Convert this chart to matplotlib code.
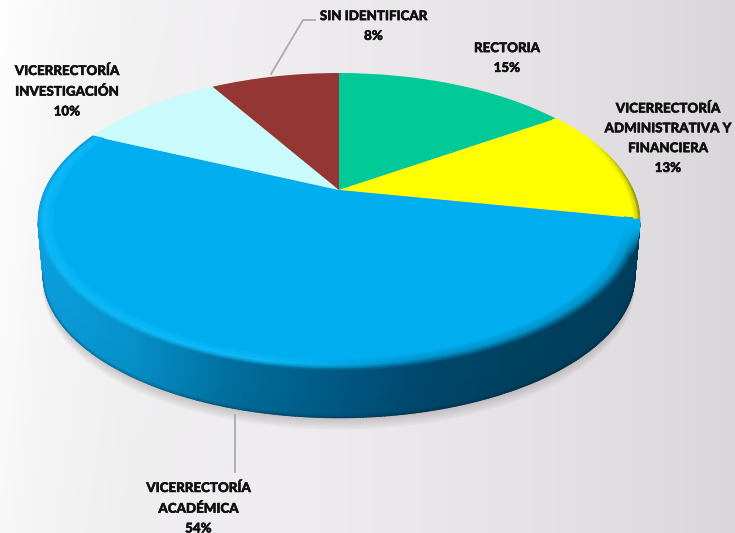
import numpy as np
import matplotlib
matplotlib.use("Agg")
import matplotlib.pyplot as plt
import matplotlib.patheffects as pe
from matplotlib.colors import to_rgb
from matplotlib.patches import Polygon
from matplotlib.transforms import Transform

# ---- data ----
labels = ["RECTORIA", "VICERRECTORÍA\nADMINISTRATIVA Y\nFINANCIERA", "VICERRECTORÍA\nACADÉMICA",
          "VICERRECTORÍA\nINVESTIGACIÓN", "SIN IDENTIFICAR"]
values = [15.49, 12.6, 53.7, 9.72, 8.49]
colors = ["#02C998", "#FFFF00", "#00AEEF", "#C9FBFC", "#943634"]
label_pos = [(507, 58), (668, 138), (198.5, 508), (67, 91), (373.5, 26)]

# ---- perspective of the disc, in pixels ----
CX, CY, A, B, K = 339.0, 190.0, 294.0, 141.8, 0.212


def project(u, v):
    w = 1 + K * v
    return CX + A * u / w, CY - B * v / w


class Persp(Transform):
    input_dims = output_dims = 2
    is_separable = False
    has_inverse = False

    def transform_non_affine(self, values):
        values = np.asarray(values)
        x, y = project(values[:, 0], values[:, 1])
        return np.column_stack([x, y])


def hexes(seq):
    return np.array([to_rgb(c) for c in seq])


fig = plt.figure(figsize=(7.35, 5.33), dpi=100)

# background
bg = fig.add_axes([0, 0, 1, 1], zorder=0)
bg.axis("off")
xx, yy = np.meshgrid(np.linspace(0, 735, 148), np.linspace(0, 533, 108))
stops_x = [0, 40, 130, 400, 600, 735]
stops_c = hexes(["#FEFEFE", "#FAF9FA", "#F3F2F3", "#EBE8EC", "#E2DFE2", "#DAD7DA"])
grad = np.dstack([np.interp(xx, stops_x, stops_c[:, i]) for i in range(3)])
grad = grad - 0.025 * np.clip(1 - xx / 300, 0, 1)[..., None] * (yy / 533)[..., None]
bg.imshow(grad, extent=(0, 735, 533, 0), aspect="auto", interpolation="bilinear")

ax = fig.add_axes([0, 0, 1, 1], zorder=1)
wedges, _ = ax.pie(values, colors=colors, startangle=90, counterclock=False, radius=1,
                   wedgeprops=dict(linewidth=0))
ax.set_aspect("auto")
ax.set_xlim(0, 735)
ax.set_ylim(533, 0)
ax.axis("off")
persp = Persp() + ax.transData
for w in wedges:
    w.set_transform(persp)
    w.set_zorder(5)


def lower(x, y):
    return CX + (x - CX) * 0.984, 221 + (y - 221) * 0.965 + 53


# soft shadow
t = np.linspace(0, 2 * np.pi, 300)
sx, sy = lower(*project(np.cos(t), np.sin(t)))
for off in np.arange(12, 0, -1.5):
    ax.add_patch(Polygon(np.column_stack([sx, sy + off]), closed=True, fc="#8A8488",
                         ec="none", alpha=0.055, zorder=2))

# side wall of the largest slice
big = wedges[2]
ang = np.radians(np.linspace(big.theta1, big.theta2, 400))
ang_side = ang[np.sin(ang) <= -K]
tx, ty = project(np.cos(ang_side), np.sin(ang_side))
bx, by = lower(tx, ty)
side_x = [37, 130, 230, 330, 430, 530, 640]
side_c = hexes(["#0C9FDE", "#0692CB", "#016F9F", "#005A85", "#00466B", "#00415F", "#003E5C"])
shade = np.column_stack([np.interp(tx, side_x, side_c[:, i]) for i in range(3)])
X = np.vstack([tx, (tx + bx) / 2, bx, bx])
Y = np.vstack([ty, (ty + by) / 2, by - 2.5, by])
C = np.stack([shade, shade, shade * 0.97, shade * 0.72], axis=0)
ax.pcolormesh(X, Y, C, shading="gouraud", zorder=3)

# bevel on the rim of the largest slice
ang_rim = np.radians(np.linspace(big.theta1, big.theta2, 500))
blue = np.array(to_rgb(colors[2]))
radii = np.array([1.0, 0.99, 0.978, 0.95])
rim_x = np.array([project(r * np.cos(ang_rim), r * np.sin(ang_rim))[0] for r in radii])
rim_y = np.array([project(r * np.cos(ang_rim), r * np.sin(ang_rim))[1] for r in radii])
x0, y0 = rim_x[0], rim_y[0]
outer = np.column_stack([np.interp(x0, side_x, side_c[:, i]) for i in range(3)])
lit = np.clip((420 - x0) / 160, 0, 1)[:, None]
taper = np.clip((y0 - 228) / 28, 0, 1)[:, None]
taper = np.where(x0[:, None] > 339, taper, 1.0)
bright = np.array(to_rgb("#10BDFB"))
mid2 = lit * bright + (1 - lit) * (0.35 * outer + 0.65 * blue)
mid1 = lit * (0.5 * outer + 0.5 * bright) + (1 - lit) * (0.7 * outer + 0.3 * blue)
outer = taper * outer + (1 - taper) * blue
mid1 = taper * mid1 + (1 - taper) * blue
mid2 = taper * mid2 + (1 - taper) * blue
inner = np.tile(blue, (len(x0), 1))
rim = np.stack([outer, mid1, mid2, inner], axis=0)
ax.pcolormesh(rim_x, rim_y, rim, shading="gouraud", zorder=6)

# thin shaded edge on the yellow slice
yel = wedges[1]
ang_y = np.radians(np.linspace(yel.theta1, yel.theta2, 120))
radii_y = np.array([1.0, 0.992, 0.98])
yx = np.array([project(r * np.cos(ang_y), r * np.sin(ang_y))[0] for r in radii_y])
yy2 = np.array([project(r * np.cos(ang_y), r * np.sin(ang_y))[1] for r in radii_y])
ycol = np.array(to_rgb(colors[1]))
fade = np.clip((yx[0] - 590) / 45, 0, 1)[:, None]
olive = np.array(to_rgb("#8F8A10"))
y_outer = fade * olive + (1 - fade) * ycol
y_mid = 0.5 * y_outer + 0.5 * ycol
ax.pcolormesh(yx, yy2, np.stack([y_outer, y_mid, np.tile(ycol, (len(ang_y), 1))]),
              shading="gouraud", zorder=6)

# leader lines
ax.plot([235, 235], [415, 472], color="#ABABAB", lw=1.3, zorder=7)
ax.plot([271, 303, 315], [74, 20, 20], color="#ABABAB", lw=1.3, zorder=7)

# labels
for lab, val, (lx, ly) in zip(labels, values, label_pos):
    ax.text(lx, ly, f"{lab}\n{round(val)}%", ha="center", va="center", family="Lato", weight=900,
            fontsize=9.6, color="#111111", linespacing=1.78, zorder=8, clip_on=False,
            path_effects=[pe.withStroke(linewidth=0.35, foreground="#111111")])

fig.savefig("out.png", dpi=100)
